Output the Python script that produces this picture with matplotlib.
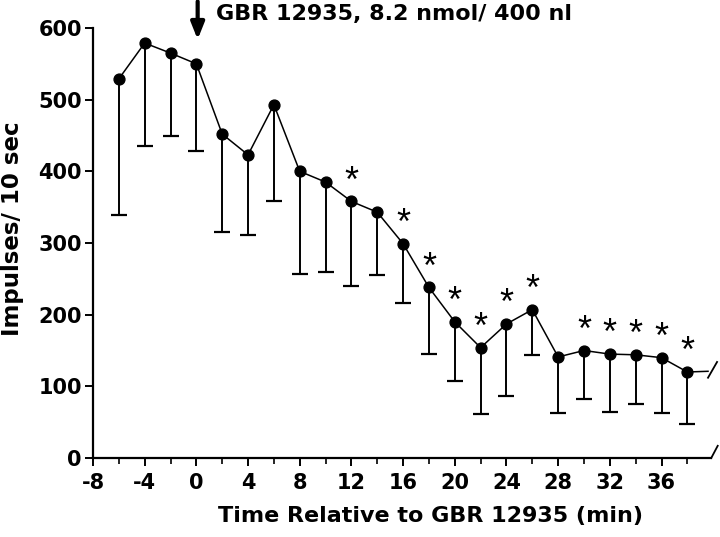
import numpy as np
import matplotlib.pyplot as plt

plt.rcParams['font.family'] = ['DejaVu Sans']
plt.rcParams['font.weight'] = 'bold'
plt.rcParams['axes.unicode_minus'] = False

# time (min) relative to GBR 12935 injection
time = [-6, -4, -2, 0, 2, 4, 6, 8, 10, 12, 14, 16, 18, 20, 22, 24, 26, 28, 30, 32, 34, 36, 38]
# mean impulses / 10 sec
rate = [529, 579, 565, 550, 452, 423, 493, 400, 385, 358, 343, 299, 238, 190, 154, 187, 207,
        141, 150, 145, 144, 140, 120]
# lower end of the error bars
lower = [339, 435, 449, 428, 315, 311, 359, 257, 259, 240, 256, 216, 145, 107, 62, 87, 144,
         63, 82, 64, 75, 63, 48]
# points marked significant
signif = [12, 16, 18, 20, 22, 24, 26, 30, 32, 34, 36, 38]
# trace continues past the axis break
cont_time = [38, 39.6]
cont_rate = [120, 121]

time = np.array(time)
rate = np.array(rate)
lower = np.array(lower)

fig = plt.figure(figsize=(7.2, 5.37), dpi=100)
ax = fig.add_axes([93 / 720, 79 / 537, 617.6 / 720, 430 / 537])

ax.vlines(time, lower, rate, color='black', lw=1.4)
ax.plot(time, lower, ls='none', marker='_', ms=12, mew=1.6, color='black')
ax.plot(time, rate, color='black', lw=1.1, marker='o', ms=7.8)
ax.plot(cont_time, cont_rate, color='black', lw=1.1, clip_on=False)

for t in signif:
    r = rate[list(time).index(t)]
    ax.text(t, r + 27, '*', ha='center', va='center', fontsize=26,
            fontweight='normal', family='Liberation Sans', color='black')

ax.set_xlim(-8, 39.8)
ax.set_ylim(0, 600)
ax.set_xticks(np.arange(-8, 37, 4))
ax.set_xticks(np.arange(-8, 40, 2), minor=True)
ax.set_yticks(np.arange(0, 601, 100))

for s in ['top', 'right']:
    ax.spines[s].set_visible(False)
for s in ['left', 'bottom']:
    ax.spines[s].set_linewidth(1.6)

ax.tick_params(axis='both', which='major', direction='out', length=6, width=1.4,
               labelsize=15, pad=2)
ax.tick_params(axis='x', which='major', pad=5)
ax.tick_params(axis='x', which='minor', direction='out', length=4, width=1.2)

ax.set_xlabel('Time Relative to GBR 12935 (min)', fontsize=16, fontweight='bold', labelpad=9)
ax.set_ylabel('Impulses/ 10 sec', fontsize=16.5, fontweight='bold', labelpad=10)
ax.xaxis.label.set_x(0.547)
ax.yaxis.label.set_y(0.533)

# axis break marks
ax.plot([39.85, 40.35], [0, 17], color='black', lw=1.3, clip_on=False)
ax.plot([39.6, 40.3], [112, 134], color='black', lw=1.3, clip_on=False)

# injection arrow and label
ax.annotate('', xy=(0.1, 584), xytext=(0.1, 637), annotation_clip=False,
            arrowprops=dict(arrowstyle='-|>,head_width=0.4,head_length=1.0',
                            color='black', lw=3, shrinkA=0, shrinkB=0))
ax.text(1.5, 620, 'GBR 12935, 8.2 nmol/ 400 nl', fontsize=16, fontweight='bold',
        ha='left', va='center', clip_on=False)

fig.savefig('out.png', dpi=100)
